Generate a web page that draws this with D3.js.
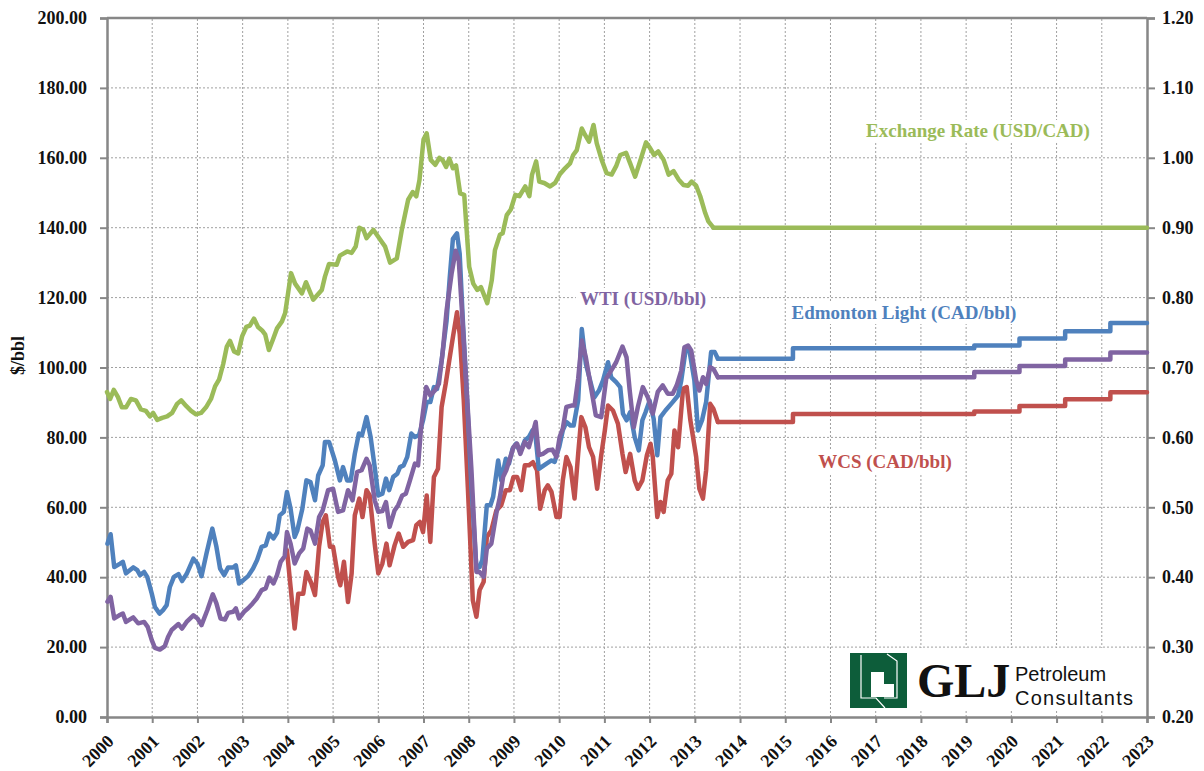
<!DOCTYPE html>
<html lang="en">
<head>
<meta charset="UTF-8" />
<title>Crude Oil Prices and Exchange Rate</title>
<script src="https://d3js.org/d3.v7.min.js"></script>
<style>
  body { margin: 0; background: #fff; }
  svg { display: block; }
  .tick-label { font-family: "Liberation Serif", serif; font-weight: bold; font-size: 18px; fill: #111; }
  .series-label { font-family: "Liberation Serif", serif; font-weight: bold; font-size: 19px; }
</style>
</head>
<body>
<svg width="1204" height="771"></svg>
<script>
// x ticks and axis ticks
const years = d3.range(2000, 2024);
const priceTicks = d3.range(0, 201, 20);
const rateTicks = [0.2, 0.3, 0.4, 0.5, 0.6, 0.7, 0.8, 0.9, 1.0, 1.1, 1.2];

// Edmonton Light (CAD/bbl) history [year, value]
const edmonton = [
  [2000.01,49.6],[2000.08,52.3],[2000.16,42.9],[2000.29,43.9],[2000.35,44.4],[2000.42,41.1],[2000.58,42.8],[2000.67,42.0],
  [2000.73,40.6],[2000.82,41.5],[2000.89,40.1],[2000.99,35.3],[2001.06,31.5],[2001.16,29.6],[2001.24,30.6],[2001.32,32.0],
  [2001.39,37.2],[2001.48,40.1],[2001.58,40.9],[2001.66,38.9],[2001.76,40.9],[2001.91,45.3],[2002.00,43.9],[2002.09,40.3],
  [2002.20,46.8],[2002.33,53.9],[2002.42,48.7],[2002.50,42.5],[2002.59,40.6],[2002.68,42.8],[2002.79,42.8],[2002.85,43.4],
  [2002.92,38.2],[2003.01,39.1],[2003.12,40.3],[2003.23,42.5],[2003.32,44.9],[2003.42,48.7],[2003.51,49.1],[2003.59,52.5],
  [2003.68,51.1],[2003.76,52.7],[2003.82,57.7],[2003.91,58.7],[2003.98,64.4],[2004.06,59.6],[2004.15,51.5],[2004.21,53.4],
  [2004.32,59.6],[2004.41,67.7],[2004.50,67.2],[2004.60,62.0],[2004.67,69.1],[2004.77,72.0],[2004.82,78.7],[2004.91,78.7],
  [2005.04,73.4],[2005.15,67.7],[2005.22,71.5],[2005.31,67.7],[2005.39,67.7],[2005.48,75.3],[2005.57,81.1],[2005.64,80.6],
  [2005.74,85.8],[2005.83,80.1],[2005.92,71.5],[2006.00,63.4],[2006.09,63.9],[2006.17,68.2],[2006.24,64.9],[2006.33,68.7],
  [2006.42,69.6],[2006.48,71.5],[2006.56,72.0],[2006.64,74.4],[2006.73,81.1],[2006.81,80.1],[2006.90,80.6],[2006.99,84.9],
  [2007.07,90.1],[2007.15,90.1],[2007.23,94.4],[2007.30,93.9],[2007.40,102.0],[2007.51,113.4],[2007.58,125.8],[2007.65,136.8],
  [2007.74,138.4],[2007.80,132.5],[2007.87,113.4],[2007.95,94.4],[2008.06,65.8],[2008.17,42.5],[2008.24,42.9],[2008.30,44.9],
  [2008.40,60.6],[2008.48,60.6],[2008.54,63.0],[2008.65,73.4],[2008.72,67.7],[2008.82,73.9],[2008.89,72.5],[2008.97,76.8],
  [2009.05,78.2],[2009.14,75.8],[2009.24,79.1],[2009.33,80.1],[2009.41,82.0],[2009.48,80.0],[2009.55,71.0],[2009.72,72.5],
  [2009.83,73.4],[2009.90,73.0],[2010.00,77.2],[2010.08,82.0],[2010.16,84.4],[2010.25,83.4],[2010.32,83.4],[2010.42,90.6],
  [2010.50,111.0],[2010.59,101.0],[2010.67,97.0],[2010.78,91.5],[2010.88,93.4],[2010.97,96.3],[2011.08,101.5],[2011.15,97.2],
  [2011.26,95.8],[2011.35,94.4],[2011.41,86.8],[2011.49,84.9],[2011.57,87.2],[2011.67,80.1],[2011.76,76.3],[2011.84,84.9],
  [2011.91,87.2],[2012.00,90.5],[2012.09,85.3],[2012.17,74.9],[2012.24,85.8],[2012.35,87.7],[2012.51,90.1],[2012.63,92.0],
  [2012.70,96.3],[2012.80,105.3],[2012.88,104.9],[2012.99,96.3],[2013.07,82.0],[2013.16,84.9],[2013.25,90.1],[2013.36,104.4],
  [2013.44,104.4],[2013.51,102.5]
];
const edmontonForecast = [[2013.51,102.5],[2015.17,105.5],[2019.18,106.3],[2020.18,108.3],[2021.19,110.4],[2022.19,112.7],[2023,112.7]];

// WTI (USD/bbl) history
const wti = [
  [2000.01,33.0],[2000.08,34.4],[2000.16,28.2],[2000.27,29.1],[2000.35,29.6],[2000.42,27.2],[2000.58,28.5],[2000.69,26.8],
  [2000.82,27.2],[2000.90,25.8],[2000.99,22.0],[2001.06,19.8],[2001.17,19.3],[2001.28,20.3],[2001.35,22.9],[2001.43,24.9],
  [2001.58,26.6],[2001.66,25.3],[2001.76,27.2],[2001.91,29.1],[2002.00,28.2],[2002.09,26.3],[2002.22,30.6],[2002.34,35.1],
  [2002.42,32.5],[2002.51,28.2],[2002.61,27.9],[2002.68,29.8],[2002.79,30.1],[2002.85,31.1],[2002.92,28.2],[2003.03,30.1],
  [2003.12,31.1],[2003.22,32.5],[2003.31,33.9],[2003.42,36.3],[2003.51,36.8],[2003.59,39.9],[2003.68,38.2],[2003.76,40.6],
  [2003.84,44.4],[2003.93,46.0],[2003.98,52.9],[2004.06,49.6],[2004.15,43.9],[2004.25,46.8],[2004.34,48.2],[2004.43,53.9],
  [2004.50,53.4],[2004.60,49.6],[2004.69,57.2],[2004.77,59.1],[2004.89,64.9],[2005.00,65.3],[2005.11,58.7],[2005.22,59.1],
  [2005.33,64.9],[2005.43,62.0],[2005.53,70.1],[2005.63,70.6],[2005.74,73.9],[2005.81,72.0],[2005.92,62.0],[2006.00,58.7],
  [2006.09,58.9],[2006.17,61.5],[2006.25,54.4],[2006.36,59.1],[2006.44,60.6],[2006.53,63.4],[2006.61,63.9],[2006.70,67.7],
  [2006.81,72.5],[2006.88,72.0],[2006.95,83.4],[2007.06,94.4],[2007.15,92.0],[2007.25,93.4],[2007.34,95.3],[2007.42,103.9],
  [2007.51,116.3],[2007.62,126.8],[2007.71,133.4],[2007.78,130.6],[2007.84,118.2],[2007.95,94.4],[2008.06,70.6],[2008.17,41.5],
  [2008.24,41.5],[2008.33,40.1],[2008.40,48.2],[2008.50,49.6],[2008.61,58.2],[2008.69,63.0],[2008.76,68.7],[2008.83,70.6],
  [2008.91,73.9],[2008.99,77.2],[2009.07,78.2],[2009.14,75.3],[2009.24,78.7],[2009.33,77.2],[2009.41,81.0],[2009.48,84.4],
  [2009.55,74.9],[2009.64,75.3],[2009.75,76.3],[2009.85,76.5],[2009.94,74.4],[2010.01,80.1],[2010.08,82.5],[2010.16,88.7],
  [2010.27,89.1],[2010.34,89.1],[2010.42,96.8],[2010.50,107.7],[2010.59,102.9],[2010.67,96.8],[2010.81,86.3],[2010.93,85.8],
  [2011.04,96.8],[2011.15,99.1],[2011.26,101.5],[2011.40,106.0],[2011.49,102.9],[2011.56,93.4],[2011.65,82.9],[2011.74,88.7],
  [2011.85,94.4],[2011.96,91.5],[2012.07,86.8],[2012.18,93.0],[2012.29,94.9],[2012.40,92.5],[2012.51,92.5],[2012.60,94.9],
  [2012.70,99.1],[2012.77,105.8],[2012.85,106.3],[2012.92,104.9],[2013.03,96.3],[2013.10,93.4],[2013.18,97.2],[2013.25,95.3],
  [2013.34,100.1],[2013.41,99.6],[2013.51,97.2]
];
const wtiForecast = [[2013.51,97.2],[2019.18,98.7],[2020.18,100.4],[2021.19,102.3],[2022.19,104.3],[2023,104.3]];

// WCS (CAD/bbl) history
const wcs = [
  [2003.98,47.7],[2004.06,37.2],[2004.15,25.3],[2004.23,35.3],[2004.34,35.3],[2004.41,41.5],[2004.52,38.2],[2004.60,34.9],
  [2004.69,48.7],[2004.77,55.8],[2004.84,57.7],[2004.93,48.7],[2005.00,48.7],[2005.11,40.1],[2005.16,37.7],[2005.24,44.4],
  [2005.33,32.9],[2005.41,41.1],[2005.48,57.7],[2005.58,62.5],[2005.65,57.2],[2005.74,64.9],[2005.81,63.4],[2005.92,49.6],
  [2006.00,41.1],[2006.09,43.9],[2006.18,49.6],[2006.25,43.4],[2006.36,49.1],[2006.45,52.5],[2006.55,48.7],[2006.66,50.1],
  [2006.77,50.6],[2006.84,54.9],[2006.92,55.8],[2006.99,52.9],[2007.07,63.4],[2007.15,50.1],[2007.23,68.7],[2007.32,71.0],
  [2007.40,88.7],[2007.49,95.3],[2007.58,102.9],[2007.65,108.7],[2007.74,115.8],[2007.80,109.6],[2007.89,90.6],[2007.98,65.8],
  [2008.09,33.4],[2008.17,28.7],[2008.24,36.3],[2008.33,38.7],[2008.40,51.5],[2008.50,53.4],[2008.61,59.1],[2008.72,60.6],
  [2008.82,64.9],[2008.91,64.9],[2008.99,68.7],[2009.07,68.7],[2009.16,64.9],[2009.24,72.0],[2009.33,72.0],[2009.42,72.9],
  [2009.51,70.6],[2009.58,59.6],[2009.68,64.9],[2009.75,66.3],[2009.83,64.4],[2009.94,57.2],[2010.01,57.2],[2010.08,67.7],
  [2010.16,74.4],[2010.25,71.5],[2010.34,62.5],[2010.42,75.3],[2010.49,85.8],[2010.58,82.9],[2010.66,77.2],[2010.75,74.4],
  [2010.84,65.3],[2010.93,74.9],[2011.01,82.0],[2011.08,89.1],[2011.19,87.7],[2011.30,83.9],[2011.40,75.3],[2011.47,70.1],
  [2011.57,75.3],[2011.67,67.7],[2011.74,65.3],[2011.84,67.7],[2011.94,74.9],[2012.02,78.2],[2012.07,74.4],[2012.17,57.2],
  [2012.24,61.5],[2012.31,58.7],[2012.40,67.7],[2012.48,69.6],[2012.55,82.0],[2012.63,77.2],[2012.74,93.9],[2012.82,94.4],
  [2012.90,85.0],[2013.03,74.4],[2013.10,65.3],[2013.18,62.5],[2013.25,70.6],[2013.34,89.6],[2013.41,88.2],[2013.51,84.4]
];
const wcsForecast = [[2013.51,84.4],[2015.17,86.7],[2019.18,87.4],[2020.18,89.0],[2021.19,90.9],[2022.19,92.9],[2023,92.9]];

// Exchange rate (USD/CAD), right axis
const exchange = [
  [2000.00,0.665],[2000.07,0.655],[2000.15,0.668],[2000.24,0.658],[2000.33,0.643],[2000.42,0.643],[2000.53,0.655],[2000.64,0.653],
  [2000.75,0.640],[2000.86,0.638],[2000.95,0.630],[2001.02,0.635],[2001.11,0.625],[2001.22,0.628],[2001.33,0.630],[2001.44,0.635],
  [2001.55,0.648],[2001.64,0.653],[2001.75,0.645],[2001.86,0.638],[2001.97,0.633],[2002.08,0.635],[2002.19,0.643],[2002.30,0.655],
  [2002.39,0.673],[2002.48,0.683],[2002.57,0.705],[2002.65,0.730],[2002.72,0.738],[2002.81,0.723],[2002.90,0.720],[2002.99,0.745],
  [2003.08,0.758],[2003.16,0.760],[2003.25,0.770],[2003.34,0.758],[2003.43,0.753],[2003.50,0.747],[2003.58,0.725],[2003.67,0.740],
  [2003.76,0.756],[2003.87,0.766],[2003.94,0.778],[2004.07,0.835],[2004.16,0.820],[2004.31,0.806],[2004.40,0.822],[2004.56,0.797],
  [2004.75,0.811],[2004.82,0.830],[2004.91,0.848],[2005.08,0.847],[2005.15,0.860],[2005.31,0.866],[2005.41,0.864],[2005.50,0.873],
  [2005.58,0.900],[2005.67,0.897],[2005.74,0.885],[2005.89,0.897],[2006.04,0.883],[2006.15,0.873],[2006.26,0.850],[2006.41,0.856],
  [2006.52,0.897],[2006.66,0.940],[2006.76,0.951],[2006.84,0.945],[2006.91,0.968],[2007.00,1.026],[2007.07,1.035],[2007.16,0.997],
  [2007.26,0.990],[2007.35,1.000],[2007.42,0.997],[2007.50,0.987],[2007.57,0.999],[2007.65,0.985],[2007.72,0.989],[2007.81,0.949],
  [2007.90,0.947],[2008.01,0.844],[2008.10,0.820],[2008.19,0.811],[2008.27,0.815],[2008.41,0.792],[2008.51,0.825],[2008.58,0.868],
  [2008.69,0.890],[2008.75,0.892],[2008.84,0.918],[2008.93,0.926],[2009.03,0.947],[2009.12,0.945],[2009.25,0.959],[2009.34,0.945],
  [2009.40,0.976],[2009.49,0.995],[2009.56,0.966],[2009.67,0.964],[2009.80,0.959],[2009.91,0.964],[2010.01,0.976],[2010.13,0.985],
  [2010.24,0.992],[2010.31,1.004],[2010.39,1.011],[2010.50,1.042],[2010.57,1.033],[2010.66,1.023],[2010.76,1.047],[2010.83,1.021],
  [2010.94,0.997],[2011.05,0.978],[2011.16,0.976],[2011.26,0.988],[2011.35,1.004],[2011.48,1.007],[2011.57,0.992],[2011.68,0.973],
  [2011.79,0.995],[2011.92,1.022],[2012.01,1.014],[2012.10,1.004],[2012.19,1.009],[2012.31,0.997],[2012.42,0.976],[2012.53,0.981],
  [2012.64,0.969],[2012.75,0.961],[2012.85,0.960],[2012.93,0.966],[2013.03,0.960],[2013.12,0.945],[2013.23,0.921],[2013.30,0.909],
  [2013.41,0.900]
];
const exchangeForecast = [[2013.41,0.90],[2023,0.90]];

const width = 1204, height = 771;
const margin = { top: 18, right: 57, bottom: 54, left: 107 };
const svg = d3.select("svg");

const x = d3.scaleLinear().domain([2000, 2023]).range([margin.left, width - margin.right]);
const y = d3.scaleLinear().domain([0, 200]).range([height - margin.bottom, margin.top]);
const yR = d3.scaleLinear().domain([0.2, 1.2]).range([height - margin.bottom, margin.top]);

const gridColor = "#a0a0a0";
const axisColor = "#878787";

// gridlines
svg.append("g")
  .selectAll("line")
  .data(priceTicks.slice(1, -1))
  .join("line")
  .attr("x1", x(2000)).attr("x2", x(2023))
  .attr("y1", d => y(d)).attr("y2", d => y(d))
  .attr("stroke", gridColor).attr("stroke-width", 1).attr("stroke-dasharray", "2,2");

svg.append("g")
  .selectAll("line")
  .data(years.slice(1, -1))
  .join("line")
  .attr("x1", d => x(d)).attr("x2", d => x(d))
  .attr("y1", y(0)).attr("y2", y(200))
  .attr("stroke", gridColor).attr("stroke-width", 1).attr("stroke-dasharray", "2,2");

// axes
const leftAxis = svg.append("g")
  .attr("transform", `translate(${margin.left},0)`)
  .call(d3.axisLeft(y).tickValues(priceTicks).tickSize(7).tickPadding(13).tickFormat(d3.format(".2f")));
const rightAxis = svg.append("g")
  .attr("transform", `translate(${width - margin.right},0)`)
  .call(d3.axisRight(yR).tickValues(rateTicks).tickSize(8).tickPadding(7).tickFormat(d3.format(".2f")));
const bottomAxis = svg.append("g")
  .attr("transform", `translate(0,${height - margin.bottom})`)
  .call(d3.axisBottom(x).tickValues(years).tickSize(6).tickFormat(d3.format("d")));

[leftAxis, rightAxis, bottomAxis].forEach(a => {
  a.select(".domain").attr("stroke", axisColor).attr("stroke-width", 2.5);
  a.selectAll(".tick line").attr("stroke", axisColor).attr("stroke-width", 2);
  a.selectAll("text").attr("class", "tick-label").attr("font-size", null).attr("font-family", null);
});

bottomAxis.selectAll("text")
  .attr("text-anchor", "end")
  .attr("dy", "0.35em")
  .attr("y", 0)
  .attr("transform", "translate(3,21) rotate(-45)")
  .style("font-size", "18px");

// top border
svg.append("line")
  .attr("x1", x(2000)).attr("x2", x(2023))
  .attr("y1", y(200)).attr("y2", y(200))
  .attr("stroke", axisColor).attr("stroke-width", 2.5);

// y title
svg.append("text")
  .attr("class", "tick-label")
  .attr("transform", `translate(24,${y(100) - 12}) rotate(-90)`)
  .attr("text-anchor", "middle")
  .text("$/bbl");

// series
const priceLine = d3.line().x(d => x(d[0])).y(d => y(d[1]));
const priceStep = d3.line().x(d => x(d[0])).y(d => y(d[1])).curve(d3.curveStepAfter);
const rateLine = d3.line().x(d => x(d[0])).y(d => yR(d[1]));

const colors = { exchange: "#9bbb59", wti: "#8064a2", edmonton: "#4f81bd", wcs: "#c0504d" };
const plot = svg.append("g")
  .attr("fill", "none")
  .attr("stroke-width", 4.5)
  .attr("stroke-linejoin", "round")
  .attr("stroke-linecap", "round");

plot.append("path").attr("d", rateLine(exchange)).attr("stroke", colors.exchange);
plot.append("path").attr("d", rateLine(exchangeForecast)).attr("stroke", colors.exchange);
plot.append("path").attr("d", priceLine(wcs)).attr("stroke", colors.wcs);
plot.append("path").attr("d", priceStep(wcsForecast)).attr("stroke", colors.wcs);
plot.append("path").attr("d", priceLine(edmonton)).attr("stroke", colors.edmonton);
plot.append("path").attr("d", priceStep(edmontonForecast)).attr("stroke", colors.edmonton);
plot.append("path").attr("d", priceLine(wti)).attr("stroke", colors.wti);
plot.append("path").attr("d", priceStep(wtiForecast)).attr("stroke", colors.wti);

// series labels
const labels = [
  { text: "Exchange Rate (USD/CAD)", cx: 978, cy: 137, color: colors.exchange },
  { text: "WTI (USD/bbl)", cx: 643, cy: 305, color: colors.wti },
  { text: "Edmonton Light (CAD/bbl)", cx: 904, cy: 319, color: colors.edmonton },
  { text: "WCS (CAD/bbl)", cx: 885, cy: 468, color: colors.wcs }
];
const lab = svg.append("g").selectAll("g").data(labels).join("g");
lab.append("text")
  .attr("class", "series-label")
  .attr("x", d => d.cx).attr("y", d => d.cy)
  .attr("text-anchor", "middle")
  .attr("fill", d => d.color)
  .text(d => d.text)
  .each(function (d) {
    const b = this.getBBox();
    d3.select(this.parentNode).insert("rect", "text")
      .attr("x", b.x - 4).attr("y", b.y).attr("width", b.width + 8).attr("height", b.height)
      .attr("fill", "#fff");
  });

// GLJ logo
const logo = svg.append("g");
logo.append("rect").attr("x", 843).attr("y", 648).attr("width", 297).attr("height", 62).attr("fill", "#fff");
logo.append("rect").attr("x", 850).attr("y", 653).attr("width", 57).attr("height", 55).attr("fill", "#0d5d3a");
logo.append("path")
  .attr("d", "M861,655 V698 H876 L885,708 M887,654 L897,661 V698 H884")
  .attr("fill", "none").attr("stroke", "#fff").attr("stroke-width", 1.2);
logo.append("path")
  .attr("d", "M871,672 H884 V684 H894 V697 H871 Z")
  .attr("fill", "#fff");
logo.append("text")
  .attr("x", 917).attr("y", 697)
  .attr("font-family", "Liberation Serif, serif").attr("font-weight", "bold").attr("font-size", 48)
  .attr("fill", "#111")
  .text("GLJ");
logo.append("text")
  .attr("x", 1015).attr("y", 681)
  .attr("font-family", "Liberation Sans, sans-serif").attr("font-size", 20)
  .attr("fill", "#111")
  .text("Petroleum");
logo.append("text")
  .attr("x", 1015).attr("y", 705)
  .attr("font-family", "Liberation Sans, sans-serif").attr("font-size", 20)
  .attr("textLength", 118)
  .attr("fill", "#111")
  .text("Consultants");
</script>
</body>
</html>
